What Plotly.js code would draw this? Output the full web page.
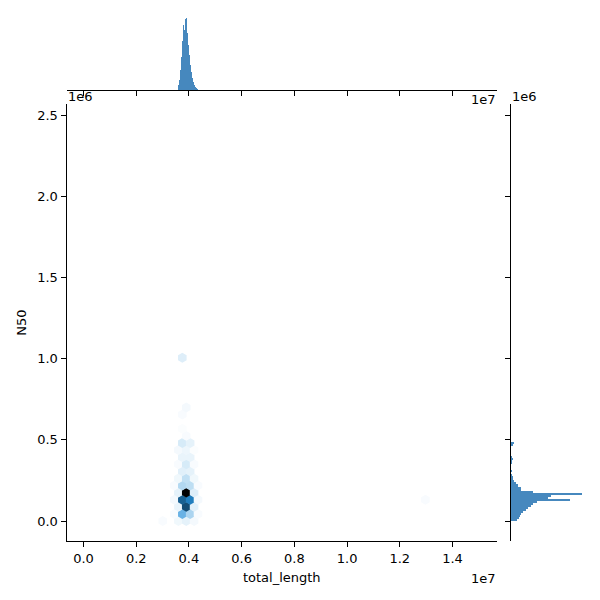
<!DOCTYPE html>
<html>
<head>
<meta charset="utf-8">
<script src="https://cdn.plot.ly/plotly-3.0.1.min.js"></script>
<style>html,body{margin:0;padding:0;background:#fff}#chart{width:600px;height:600px}</style>
</head>
<body>
<div id="chart"></div>
<script>
// ---- Hexbin cells (bin centers of total_length, N50, and counts) ----
const hexX = [3005000, 3600000, 3898000, 4195000,
              3446000, 3749000, 4046000, 4344000,
              3600000, 3898000, 4195000,
              3446000, 3749000, 4046000, 4344000,
              3600000, 3898000, 4195000,
              3446000, 3749000, 4046000, 4344000,
              3600000, 3898000, 4195000,
              3749000, 4046000,
              3600000, 3898000, 4195000,
              3749000, 4046000,
              3600000, 3898000, 4195000,
              3749000, 4046000,
              3898000,
              3749000,
              3749000,
              3898000,
              3749000,
              12971000];
const hexY = [0, 0, 0, 0,
              43700, 43700, 43700, 43700,
              87400, 87400, 87400,
              131100, 131100, 131100, 131100,
              174800, 174800, 174800,
              218500, 218500, 218500, 218500,
              262200, 262200, 262200,
              305900, 305900,
              349600, 349600, 349600,
              393300, 393300,
              437000, 437000, 437000,
              480700, 480700,
              524400,
              568100,
              655500,
              699200,
              1005100,
              131100];
const hexCount = [3, 5, 8, 4,
                  3, 42, 24, 3,
                  7, 88, 9,
                  4, 80, 68, 4,
                  8, 120, 10,
                  3, 22, 19, 3,
                  5, 18, 5,
                  9, 8,
                  3, 12, 3,
                  7, 7,
                  4, 6, 2,
                  12, 8,
                  3,
                  2,
                  3,
                  4,
                  10,
                  3];

// ---- Top marginal histogram: total_length ----
const topBinCenters = [3610000, 3648000, 3686000, 3724000, 3762000, 3800000, 3838000, 3876000,
                       3914000, 3952000, 3990000, 4028000, 4066000, 4104000, 4142000, 4180000,
                       4218000, 4256000, 4294000, 4332000];
const topCounts = [7, 14, 28, 46, 69, 90, 83, 99, 100, 79, 63, 49, 35, 25, 17, 11, 7, 4, 3, 1];
const topBinWidth = 38000;

// ---- Right marginal histogram: N50 ----
const rightBinCenters = [6250, 18750, 31250, 43750, 56250, 68750, 81250, 93750, 106250, 118750,
                         131250, 143750, 156250, 168750, 181250, 193750, 206250, 218750, 231250, 243750,
                         256250, 268750, 281250, 293750, 306250, 318750, 331250, 343750, 356250, 368750,
                         381250, 393750, 406250, 418750, 431250, 443750, 456250, 468750, 481250];
const rightCounts = [13, 17, 19, 22, 26, 31, 35, 42, 46, 55,
                     124, 77, 84, 150, 46, 22, 22, 15, 11, 7,
                     5, 5, 3, 0, 2, 1, 0, 0, 2, 2,
                     5, 2, 0, 0, 0, 0, 0, 4, 7];
const rightBinWidth = 12500;

// ---- Tick labels ----
const xTickVals = [0, 2000000, 4000000, 6000000, 8000000, 10000000, 12000000, 14000000];
const xTickText = ["0.0", "0.2", "0.4", "0.6", "0.8", "1.0", "1.2", "1.4"];
const yTickVals = [0, 500000, 1000000, 1500000, 2000000, 2500000];
const yTickText = ["0.0", "0.5", "1.0", "1.5", "2.0", "2.5"];

// colormap: seaborn light->C0 hue->dark (HLS lightness 1 -> 0)
function hls2rgb(h, l, s) {
  function hue(m1, m2, hh) {
    hh = ((hh % 1) + 1) % 1;
    if (hh < 1/6) return m1 + (m2 - m1) * hh * 6;
    if (hh < 0.5) return m2;
    if (hh < 2/3) return m1 + (m2 - m1) * (2/3 - hh) * 6;
    return m1;
  }
  const m2 = l <= 0.5 ? l * (1 + s) : l + s - l * s;
  const m1 = 2 * l - m2;
  return [hue(m1, m2, h + 1/3), hue(m1, m2, h), hue(m1, m2, h - 1/3)].map(v => Math.round(v * 255));
}
const cscale = [];
for (let i = 0; i < 12; i++) {
  const p = i / 11;
  const c = hls2rgb(0.5682, 1 - p, 0.706);
  cscale.push([p, 'rgb(' + c.join(',') + ')']);
}

const FONT = {family: 'DejaVu Sans', size: 13, color: '#000'};
const barColor = 'rgb(70,136,190)';

const traces = [
  {
    type: 'scatter', mode: 'markers', x: hexX, y: hexY, xaxis: 'x', yaxis: 'y',
    marker: {symbol: 'hexagon', size: 9.9, color: hexCount, colorscale: cscale,
             cmin: 1, cmax: Math.max(...hexCount), line: {width: 0}, opacity: 1},
    hoverinfo: 'skip', showlegend: false, cliponaxis: false
  },
  {
    type: 'bar', x: topBinCenters, y: topCounts, width: topBinWidth, xaxis: 'x2', yaxis: 'y2',
    marker: {color: barColor, line: {width: 0}}, showlegend: false
  },
  {
    type: 'bar', orientation: 'h', y: rightBinCenters, x: rightCounts, width: rightBinWidth,
    xaxis: 'x3', yaxis: 'y3', marker: {color: barColor, line: {width: 0}}, showlegend: false
  }
];

const xRange = [-645000, 15687000];
const yRange = [-123000, 2568000];
const mainXDom = [66.5/600, 497/600];
const mainYDom = [59/600, 496/600];

const axisCommon = {
  showgrid: false, zeroline: false, showline: true, linecolor: '#000', linewidth: 1,
  ticks: 'outside', ticklen: 5, tickwidth: 1, tickcolor: '#000', tickfont: FONT,
  fixedrange: true
};

const layout = {
  width: 600, height: 600,
  margin: {l: 0, r: 0, t: 0, b: 0},
  paper_bgcolor: '#fff', plot_bgcolor: 'rgba(0,0,0,0)',
  font: FONT, showlegend: false, bargap: 0,
  xaxis: Object.assign({}, axisCommon, {
    domain: mainXDom, range: xRange, anchor: 'y',
    tickmode: 'array', tickvals: xTickVals, ticktext: xTickText,
    title: {text: 'total_length', font: FONT, standoff: 8}
  }),
  yaxis: Object.assign({}, axisCommon, {
    domain: mainYDom, range: yRange, anchor: 'x',
    tickmode: 'array', tickvals: yTickVals, ticktext: yTickText,
    title: {text: 'N50', font: FONT, standoff: 7}
  }),
  xaxis2: Object.assign({}, axisCommon, {
    domain: mainXDom, range: xRange, anchor: 'y2',
    tickmode: 'array', tickvals: xTickVals, showticklabels: false
  }),
  yaxis2: {domain: [510/600, 585.3/600], range: [0, 105], anchor: 'x2', visible: false, fixedrange: true},
  xaxis3: {domain: [511/600, 586/600], range: [0, 157.5], anchor: 'y3', visible: false, fixedrange: true},
  yaxis3: Object.assign({}, axisCommon, {
    domain: mainYDom, range: yRange, anchor: 'x3',
    tickmode: 'array', tickvals: yTickVals, showticklabels: false
  }),
  annotations: [
    {text: '1e6', xref: 'paper', yref: 'paper', x: 66/600, y: (600 - 96)/600, xanchor: 'left', yanchor: 'middle', showarrow: false, font: FONT},
    {text: '1e7', xref: 'paper', yref: 'paper', x: 498/600, y: (600 - 100)/600, xanchor: 'right', yanchor: 'middle', showarrow: false, font: FONT},
    {text: '1e6', xref: 'paper', yref: 'paper', x: 510/600, y: (600 - 96)/600, xanchor: 'left', yanchor: 'middle', showarrow: false, font: FONT},
    {text: '1e7', xref: 'paper', yref: 'paper', x: 498/600, y: (600 - 578)/600, xanchor: 'right', yanchor: 'middle', showarrow: false, font: FONT}
  ]
};

Plotly.newPlot('chart', traces, layout, {staticPlot: true, displayModeBar: false});
</script>
</body>
</html>
